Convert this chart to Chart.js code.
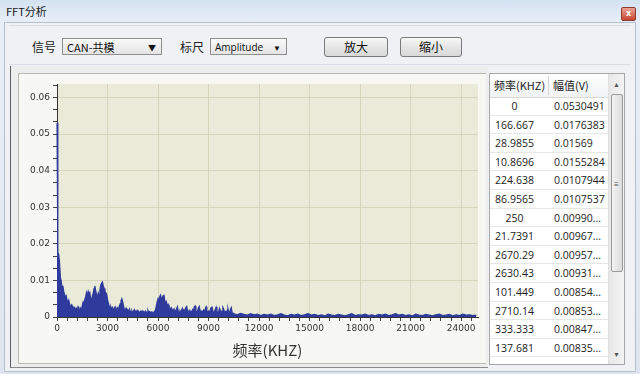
<!DOCTYPE html>
<html>
<head>
<meta charset="utf-8">
<script src="https://cdn.jsdelivr.net/npm/chart.js@4.4.0/dist/chart.umd.min.js"></script>
<style>
  html, body { margin: 0; padding: 0; }
  body {
    width: 640px; height: 374px; overflow: hidden; position: relative;
    font-family: "Noto Sans CJK SC", "Open Sans", sans-serif;
    background: #dce6f1;
  }
  .win {
    position: absolute; left: 0; top: 0; width: 640px; height: 374px;
    background: linear-gradient(#d3e2f1, #e8eff7 22px, #dde6f0);
  }
  .title { position: absolute; left: 6px; top: 3px; font-size: 11px; color: #1a1a1a; }
  .close {
    position: absolute; left: 621px; top: 7px; width: 13px; height: 12px;
    background: linear-gradient(#eba393, #c9452f); border: 1px solid #8e3b2f; border-radius: 2px;
    color: #fff; font: bold 8px/12px "DejaVu Sans", sans-serif; text-align: center;
  }
  .client {
    position: absolute; left: 4px; top: 22px; width: 630px; height: 348px;
    background: #eff1f4; border: 1px solid #b4c0cd;
  }
  .toolbar {
    position: absolute; left: 9px; top: 25px; width: 622px; height: 38px;
    border-top: 1px solid #d9dde2; border-bottom: 1px solid #d9dde2;
  }
  .lbl { position: absolute; font-size: 12px; color: #222; top: 38px; }
  .combo {
    position: absolute; top: 38px; height: 17px; border: 1px solid #8f8f8f;
    background: linear-gradient(#fafafa, #e4e4e4); font-size: 11px; line-height: 17px;
    color: #111; padding-left: 4px; box-sizing: border-box;
  }
  .combo .arr { position: absolute; right: 5px; top: 0; font-size: 8px; color: #111; }
  .btn {
    position: absolute; top: 37px; height: 20px; border: 1px solid #7a7a7a; border-radius: 3px;
    background: linear-gradient(#f6f6f6, #e6e6e6 50%, #d8d8d8); box-sizing: border-box;
    font-size: 12px; line-height: 18px; text-align: center; color: #111;
  }
  .panel {
    position: absolute; left: 10px; top: 66px; width: 478px; height: 302px;
    border-left: 1px solid #5c5c5c; border-bottom: 1px solid #8a8a8a; box-sizing: border-box;
    background: #eceeee;
  }
  .inner {
    position: absolute; left: 18px; top: 73px; width: 468px; height: 291px;
    border-left: 1px solid #b9b9b0; border-top: 1px solid #b9b9b0; border-bottom: 1px solid #b9b9b0;
    box-sizing: border-box; background: #f7f7f3;
  }
  .chartbox { position: absolute; left: 19px; top: 74px; width: 466px; height: 290px; }
  .tbl {
    position: absolute; left: 489px; top: 73px; width: 136px; height: 292px;
    background: #fff; border: 1px solid #a7a7a7; box-sizing: border-box; overflow: hidden;
    font-family: "Open Sans", sans-serif; font-size: 10.5px; color: #222;
  }
  .thead {
    position: absolute; left: 0; top: 0; width: 118px; height: 23px;
    background: linear-gradient(#ffffff, #f1f2f4); border-bottom: 1px solid #d8d8d8;
    font-family: "Noto Sans CJK SC", sans-serif; font-size: 11px; line-height: 22px;
  }
  .thead .h1 { position: absolute; left: 4px; top: 0; }
  .thead .h2 { position: absolute; left: 63px; top: 0; }
  .thead .div { position: absolute; left: 58px; top: 2px; width: 1px; height: 19px; background: #d5d5d5; }
  .row { position: absolute; left: 0; width: 118px; height: 18.6px; border-bottom: 1px solid #e6e6e6; box-sizing: border-box; line-height: 18px; }
  .row .c1 { position: absolute; left: 0; width: 49px; text-align: center; }
  .row .c2 { position: absolute; left: 64px; }
  .sb {
    position: absolute; left: 118px; top: 0; width: 16px; height: 290px;
    background: linear-gradient(90deg, #e8e8e8, #f4f4f4); border-left: 1px solid #e0e0e0; box-sizing: border-box;
  }
  .thumb {
    position: absolute; left: 2px; top: 20px; width: 12px; height: 178px;
    border: 1px solid #9a9a9a; border-radius: 2px; box-sizing: border-box;
    background: linear-gradient(90deg, #f2f2f2, #dcdcdc);
  }
  .grip { position: absolute; left: 2px; top: 85px; font-size: 8px; color: #555; line-height: 8px; }
  .sarr { position: absolute; left: 4px; font-size: 7px; color: #555; }
</style>
</head>
<body>
<div class="win"></div>
<div class="title">FFT分析</div>
<div class="close">x</div>
<div class="client"></div>
<div class="toolbar"></div>
<div class="lbl" style="left:32px">信号</div>
<div class="combo" style="left:62px;width:100px">CAN-共模<span class="arr">▼</span></div>
<div class="lbl" style="left:180px">标尺</div>
<div class="combo" style="left:210px;width:77px;font-family:'Open Sans',sans-serif;font-size:10px">Amplitude<span class="arr">▼</span></div>
<div class="btn" style="left:324px;width:64px">放大</div>
<div class="btn" style="left:400px;width:62px">缩小</div>
<div class="panel"></div>
<div class="inner"></div>
<div class="chartbox"><canvas id="fft"></canvas></div>
<div class="tbl" id="tbl">
  <div class="thead"><span class="h1">频率(KHZ)</span><span class="div"></span><span class="h2">幅值(V)</span></div>
  <div class="sb"><span class="sarr" style="top:6px">▲</span><div class="thumb"><span class="grip">≡</span></div><span class="sarr" style="top:276px">▼</span></div>
</div>
<script>
// spectrum amplitude (V), 50 Hz per point from 0 to 10450 Hz
const lowBandStepHz = 50;
const lowBand = [
  0.0530, 0.0176, 0.0172, 0.0150, 0.0108, 0.0099, 0.0082, 0.0085, 0.0070, 0.0062,
  0.0055, 0.0058, 0.0045, 0.0040, 0.0046, 0.0035, 0.0030, 0.0033, 0.0025, 0.0028,
  0.0022, 0.0026, 0.0018, 0.0024, 0.0020, 0.0028, 0.0021, 0.0017, 0.0024, 0.0019,
  0.0032, 0.0041, 0.0036, 0.0048, 0.0055, 0.0067, 0.0058, 0.0070, 0.0062, 0.0066,
  0.0050, 0.0046, 0.0058, 0.0065, 0.0078, 0.0085, 0.0072, 0.0060, 0.0055, 0.0066,
  0.0058, 0.0075, 0.0088, 0.0093, 0.0096, 0.0085, 0.0078, 0.0070, 0.0066, 0.0062,
  0.0048, 0.0038, 0.0030, 0.0025, 0.0028, 0.0021, 0.0026, 0.0019, 0.0023, 0.0028,
  0.0022, 0.0018, 0.0025, 0.0021, 0.0030, 0.0036, 0.0045, 0.0050, 0.0042, 0.0030,
  0.0022, 0.0018, 0.0024, 0.0015, 0.0019, 0.0013, 0.0022, 0.0016, 0.0012, 0.0017,
  0.0011, 0.0016, 0.0020, 0.0013, 0.0017, 0.0012, 0.0018, 0.0014, 0.0011, 0.0016,
  0.0013, 0.0017, 0.0011, 0.0015, 0.0012, 0.0016, 0.0010, 0.0014, 0.0018, 0.0011,
  0.0015, 0.0012, 0.0014, 0.0010, 0.0013, 0.0011, 0.0016, 0.0020, 0.0031, 0.0042,
  0.0050, 0.0044, 0.0056, 0.0060, 0.0048, 0.0052, 0.0058, 0.0061, 0.0045, 0.0038,
  0.0042, 0.0030, 0.0034, 0.0022, 0.0026, 0.0018, 0.0024, 0.0016, 0.0021, 0.0015,
  0.0019, 0.0013, 0.0022, 0.0028, 0.0016, 0.0012, 0.0017, 0.0013, 0.0019, 0.0024,
  0.0015, 0.0020, 0.0014, 0.0026, 0.0029, 0.0017, 0.0013, 0.0018, 0.0012, 0.0016,
  0.0013, 0.0020, 0.0015, 0.0027, 0.0030, 0.0016, 0.0012, 0.0018, 0.0025, 0.0029,
  0.0017, 0.0012, 0.0016, 0.0013, 0.0019, 0.0014, 0.0022, 0.0028, 0.0018, 0.0012,
  0.0016, 0.0013, 0.0019, 0.0026, 0.0029, 0.0017, 0.0012, 0.0015, 0.0021, 0.0027,
  0.0016, 0.0011, 0.0015, 0.0024, 0.0018, 0.0012, 0.0016, 0.0026, 0.0021, 0.0013,
  0.0015, 0.0011, 0.0018, 0.0024, 0.0014, 0.0010, 0.0021, 0.0026, 0.0012, 0.0008
];

// noise floor, 200 Hz per point from 10500 to 24900 Hz
const tailStartHz = 10500;
const tailStepHz = 200;
const tailBand = [
  0.0009, 0.0006, 0.0010, 0.0007, 0.0005, 0.0009, 0.0006, 0.0008, 0.0004, 0.0007,
  0.0005, 0.0008, 0.0004, 0.0006, 0.0009, 0.0005, 0.0003, 0.0007, 0.0005, 0.0008,
  0.0004, 0.0006, 0.0009, 0.0005, 0.0007, 0.0004, 0.0006, 0.0003, 0.0008, 0.0005,
  0.0004, 0.0007, 0.0005, 0.0003, 0.0006, 0.0009, 0.0004, 0.0006, 0.0005, 0.0008,
  0.0004, 0.0006, 0.0003, 0.0007, 0.0005, 0.0008, 0.0004, 0.0006, 0.0009, 0.0005,
  0.0007, 0.0004, 0.0006, 0.0003, 0.0008, 0.0005, 0.0004, 0.0007, 0.0005, 0.0003,
  0.0006, 0.0008, 0.0004, 0.0005, 0.0007, 0.0003, 0.0006, 0.0004, 0.0008, 0.0005,
  0.0006, 0.0004, 0.0005
];

// peak list shown in the side table
const peakFreqs = ["0", "166.667", "28.9855", "10.8696", "224.638", "86.9565", "250",
  "21.7391", "2670.29", "2630.43", "101.449", "2710.14", "333.333", "137.681"];
const peakAmps = ["0.0530491", "0.0176383", "0.01569", "0.0155284", "0.0107944", "0.0107537",
  "0.00990...", "0.00967...", "0.00957...", "0.00931...", "0.00854...", "0.00853...",
  "0.00847...", "0.00835..."];

const xMajorTicks = [0, 3000, 6000, 9000, 12000, 15000, 18000, 21000, 24000];
const yMajorTicks = [0, 0.01, 0.02, 0.03, 0.04, 0.05, 0.06];
const yTickLabels = ["0", "0.01", "0.02", "0.03", "0.04", "0.05", "0.06"];

const table = document.getElementById("tbl");
peakFreqs.forEach((f, i) => {
  const row = document.createElement("div");
  row.className = "row";
  row.style.top = (23 + i * 18.6) + "px";
  row.innerHTML = `<span class="c1">${f}</span><span class="c2">${peakAmps[i]}</span>`;
  table.appendChild(row);
});

const points = [];
lowBand.forEach((v, i) => points.push({ x: i * lowBandStepHz, y: v }));
tailBand.forEach((v, i) => points.push({ x: tailStartHz + i * tailStepHz, y: v }));

function withMinors(majors, parts, extraEnd) {
  const out = [];
  const step = majors[1] - majors[0];
  majors.forEach((m) => {
    out.push({ value: m, isMajor: true });
    for (let k = 1; k < parts; k++) {
      const v = m + (step * k) / parts;
      if (v <= extraEnd) out.push({ value: v, isMajor: false });
    }
  });
  return out;
}

const plotBackground = {
  id: "plotBackground",
  beforeDraw(chart) {
    const { ctx, chartArea: a } = chart;
    ctx.save();
    ctx.fillStyle = "#e9eAd7";
    ctx.fillRect(a.left, a.top, a.right - a.left, a.bottom - a.top);
    ctx.restore();
  },
};

const axisFont = { family: "DejaVu Sans", size: 9 };
const gridColor = "rgba(205, 205, 178, 0.75)";

new Chart(document.getElementById("fft"), {
  type: "line",
  data: {
    datasets: [{
      data: points,
      borderColor: "#2e3a9c",
      backgroundColor: "#2e3a9c",
      borderWidth: 1.2,
      fill: "origin",
      pointRadius: 0,
      tension: 0,
      clip: { left: 2, top: 0, right: 0, bottom: 1 },
    }],
  },
  options: {
    responsive: true,
    maintainAspectRatio: false,
    animation: false,
    layout: { padding: { top: 10, right: 7, left: 0, bottom: 0 } },
    plugins: { legend: { display: false }, tooltip: { enabled: false } },
    scales: {
      x: {
        type: "linear",
        min: 0,
        max: 25000,
        afterBuildTicks: (scale) => { scale.ticks = withMinors(xMajorTicks, 5, 24900); },
        afterFit: (scale) => { scale.height = 47; },
        ticks: {
          autoSkip: false, maxRotation: 0, padding: 2, color: "#333", font: axisFont,
          callback: (v, i, ticks) => (ticks[i].isMajor ? String(v) : ""),
        },
        grid: {
          color: (ctx) => (ctx.tick && ctx.tick.isMajor && ctx.tick.value > 0 ? gridColor : "transparent"),
          tickColor: "#444",
          tickLength: 4,
        },
        border: { color: "#333", width: 1 },
        title: {
          display: true, text: "频率(KHZ)", color: "#333",
          font: { family: "Noto Sans CJK SC", size: 15 },
          padding: { top: 0, bottom: 5 },
        },
      },
      y: {
        min: 0,
        max: 0.0637,
        afterBuildTicks: (scale) => { scale.ticks = withMinors(yMajorTicks, 3, 0.0635); },
        afterFit: (scale) => { scale.width = 38; },
        ticks: {
          autoSkip: false, padding: 3, color: "#333", font: axisFont,
          callback: (v, i, ticks) => (ticks[i].isMajor ? yTickLabels[yMajorTicks.indexOf(ticks[i].value)] : ""),
        },
        grid: {
          color: (ctx) => (ctx.tick && ctx.tick.isMajor && ctx.tick.value > 0 ? gridColor : "transparent"),
          tickColor: "#444",
          tickLength: 4,
        },
        border: { color: "#333", width: 1 },
      },
    },
  },
  plugins: [plotBackground],
});
</script>
</body>
</html>
